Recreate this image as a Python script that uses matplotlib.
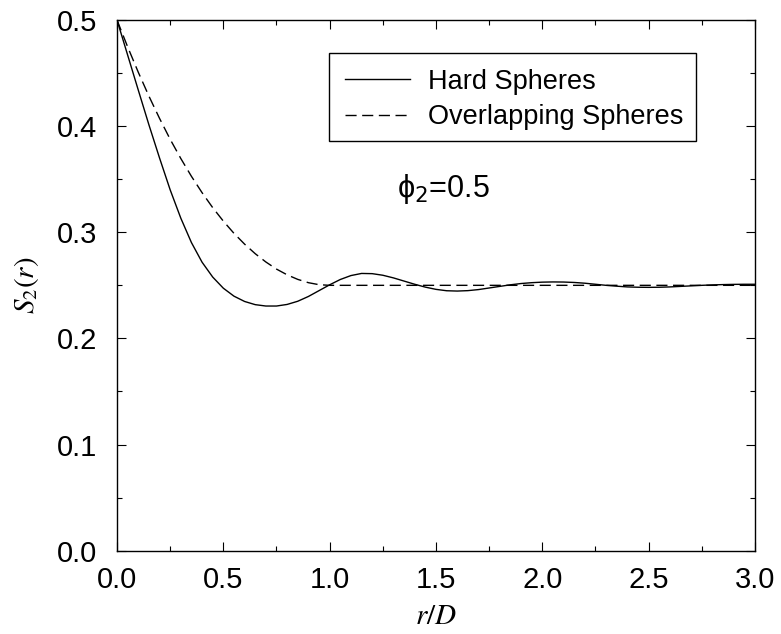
import numpy as np
import matplotlib
matplotlib.use("Agg")
import matplotlib.pyplot as plt
from matplotlib.ticker import MultipleLocator
from matplotlib.patches import Rectangle

# values (r/D steps of 0.05)
r = np.round(np.arange(0, 3.0001, 0.05), 2)

hard_spheres = [
    0.5000, 0.4670, 0.4340, 0.4013, 0.3700, 0.3400, 0.3133, 0.2903, 0.2718, 0.2578,
    0.2473, 0.2398, 0.2348, 0.2318, 0.2305, 0.2305, 0.2320, 0.2350, 0.2395, 0.2450,
    0.2505, 0.2555, 0.2592, 0.2612, 0.2610, 0.2595, 0.2570, 0.2540, 0.2510, 0.2483,
    0.2462, 0.2449, 0.2446, 0.2450, 0.2460, 0.2475, 0.2490, 0.2505, 0.2517, 0.2525,
    0.2530, 0.2532, 0.2531, 0.2527, 0.2520, 0.2510, 0.2500, 0.2492, 0.2485, 0.2482,
    0.2481, 0.2482, 0.2485, 0.2490, 0.2495, 0.2500, 0.2504, 0.2507, 0.2509, 0.2510,
    0.2510,
]

overlapping = [
    0.5000, 0.4747, 0.4508, 0.4283, 0.4073, 0.3876, 0.3695, 0.3527, 0.3373, 0.3232,
    0.3105, 0.2990, 0.2888, 0.2798, 0.2720, 0.2653, 0.2599, 0.2556, 0.2525, 0.2506,
    0.2500,
] + [0.25] * 40

xticks = [0.0, 0.5, 1.0, 1.5, 2.0, 2.5, 3.0]
yticks = [0.0, 0.1, 0.2, 0.3, 0.4, 0.5]

plt.rcParams["font.family"] = ["Liberation Sans", "DejaVu Sans"]
plt.rcParams["mathtext.fontset"] = "stix"

fig = plt.figure(figsize=(7.81, 6.34), dpi=100)
ax = fig.add_axes([0.1498, 0.1314, 0.8169, 0.8371])

ax.plot(r, hard_spheres, color="black", lw=1.0, label="Hard Spheres")
ax.plot(r, overlapping, color="black", lw=1.0, dashes=(8, 4),
        label="Overlapping Spheres")

ax.set_xlim(0, 3.0)
ax.set_ylim(0, 0.5)
ax.set_xticks(xticks)
ax.set_yticks(yticks)
ax.set_xticklabels(["%.1f" % v for v in xticks])
ax.set_yticklabels(["%.1f" % v for v in yticks])
ax.xaxis.set_minor_locator(MultipleLocator(0.25))
ax.yaxis.set_minor_locator(MultipleLocator(0.05))

ax.tick_params(which="both", direction="in", top=True, right=True, width=0.8)
ax.tick_params(which="major", length=6.5)
ax.tick_params(which="minor", length=3.5)
ax.tick_params(axis="x", labelsize=21, pad=11)
ax.tick_params(axis="y", labelsize=21, pad=14)
for s in ax.spines.values():
    s.set_linewidth(1.0)

ax.set_xlabel(r"$r/D$", fontsize=21, labelpad=6)
ax.set_ylabel(r"$S_2(r)$", fontsize=21, labelpad=12)

# legend without its own frame, box drawn separately
leg = ax.legend(loc="upper left", bbox_to_anchor=(0.3574, 0.9079), fontsize=19.5,
                frameon=False, handlelength=2.4, handletextpad=0.66,
                borderpad=0, borderaxespad=0, labelspacing=0.34)
ax.add_patch(Rectangle((0.3323, 0.7720), 0.9075 - 0.3323, 0.9378 - 0.7720,
                       transform=ax.transAxes, fill=False, edgecolor="black",
                       lw=1.0, zorder=5))

ax.text(1.316, 0.3335, "\u03d5$_2$=0.5", fontsize=22, ha="left", va="baseline",
        math_fontfamily="dejavusans")

fig.savefig("out.png", dpi=100)
